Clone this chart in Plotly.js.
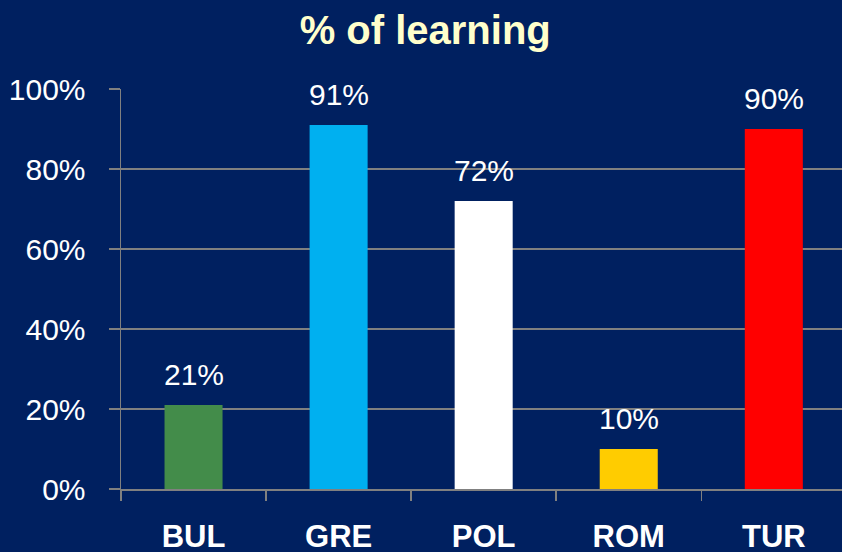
<!DOCTYPE html>
<html>
<head>
<meta charset="utf-8">
<script src="https://cdn.plot.ly/plotly-3.0.1.min.js"></script>
<style>
html,body{margin:0;padding:0;background:#002060;}
#chart{width:842px;height:552px;}
</style>
</head>
<body>
<div id="chart"></div>
<script>
var countries = ["BUL", "GRE", "POL", "ROM", "TUR"];
var learningPct = [21, 91, 72, 10, 90];
var barColors = ["#438c4a", "#00b0f0", "#ffffff", "#ffcc00", "#ff0000"];
var yTickVals = [0, 20, 40, 60, 80, 100];
var yTickText = ["0%", "20%", "40%", "60%", "80%", "100%"];

var trace = {
  type: "bar",
  x: countries,
  y: learningPct,
  width: 0.4,
  marker: {color: barColors, line: {width: 0}},
  hoverinfo: "none"
};

var annotations = countries.map(function(c, i) {
  return {
    x: c, y: learningPct[i], xref: "x", yref: "y",
    text: learningPct[i] + "%",
    showarrow: false, yanchor: "bottom", yshift: 12,
    font: {family: "Liberation Sans, Arial, sans-serif", size: 30, color: "#ffffff"}
  };
});

var layout = {
  width: 842, height: 552,
  paper_bgcolor: "#002060",
  plot_bgcolor: "#002060",
  margin: {l: 121, r: 0, t: 89, b: 63},
  showlegend: false,
  title: {
    text: "<b>% of learning</b>",
    x: 0.505, xanchor: "center",
    y: 0.945, yanchor: "middle",
    font: {family: "Liberation Sans, Arial, sans-serif", size: 40, color: "#ffffcc"}
  },
  xaxis: {
    range: [-0.5, 4.47],
    showgrid: false,
    showline: true, linecolor: "#808080", linewidth: 1.5,
    ticks: "outside", ticklen: 10, tickcolor: "#808080", tickwidth: 1.5,
    tickson: "boundaries",
    ticklabelstandoff: 19,
    tickfont: {family: "Liberation Sans, Arial, sans-serif", size: 31, color: "#ffffff", weight: "bold"},
    fixedrange: true
  },
  yaxis: {
    range: [0, 100],
    tickvals: yTickVals, ticktext: yTickText,
    showgrid: true, gridcolor: "#808080", gridwidth: 1.5,
    zeroline: false,
    showline: true, linecolor: "#808080", linewidth: 1.5,
    ticks: "outside", ticklen: 11, tickcolor: "#808080", tickwidth: 1.5,
    ticklabelstandoff: 17,
    tickfont: {family: "Liberation Sans, Arial, sans-serif", size: 30, color: "#ffffff"},
    fixedrange: true
  },
  annotations: annotations
};

Plotly.newPlot("chart", [trace], layout, {displayModeBar: false, staticPlot: true});
</script>
</body>
</html>
